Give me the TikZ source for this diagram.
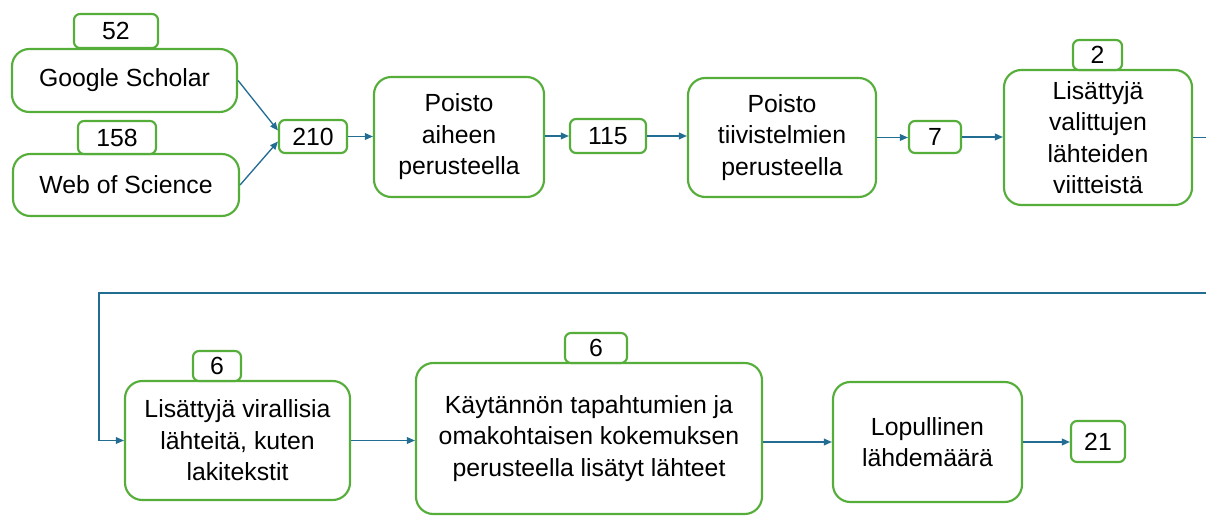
\documentclass[tikz,border=0pt]{standalone}
\usepackage{fontspec}
\setmainfont{Liberation Sans}
\usetikzlibrary{arrows.meta,calc}
\definecolor{boxgreen}{HTML}{55AE3A}
\definecolor{arrblue}{HTML}{236C92}
\begin{document}
\begin{tikzpicture}[x=0.75pt,y=-0.75pt,
  base/.style={draw=boxgreen,line width=1.6pt,fill=white,align=center,inner sep=0pt,
    font=\fontsize{18.6}{23.6}\selectfont},
  bigbox/.style={base,rounded corners=13pt},
  numbox/.style={base,rounded corners=4.5pt},
  arr/.style={draw=arrblue,line width=1pt,-{Triangle[length=6pt,width=5pt]}},
  ln/.style={draw=arrblue,line width=1pt}]
\useasboundingbox (0,0) rectangle (1206,516);
% top row
\node[bigbox,minimum width=168.75pt,minimum height=47.25pt] (gs) at (124.5,80.5) {Google Scholar};
\node[numbox,minimum width=63pt,minimum height=25.5pt] (n52) at (116,31) {52};
\node[bigbox,minimum width=169.5pt,minimum height=46.5pt] (wos) at (126,185) {Web of Science};
\node[numbox,minimum width=58.5pt,minimum height=24.75pt] (n158) at (117,137.5) {158};
\node[numbox,minimum width=51pt,minimum height=24.75pt] (n210) at (313,136.5) {210};
\node[bigbox,minimum width=127.5pt,minimum height=90pt] (p1) at (459,137) {Poisto\\aiheen\\perusteella};
\node[numbox,minimum width=57pt,minimum height=25.5pt] (n115) at (608,136) {115};
\node[bigbox,minimum width=141pt,minimum height=89.25pt] (p2) at (782,137.5) {Poisto\\tiivistelmien\\perusteella};
\node[numbox,minimum width=39pt,minimum height=24pt] (n7) at (935,137) {7};
\node[bigbox,minimum width=141pt,minimum height=101.25pt] (l1) at (1098,137.5) {Lisättyjä\\valittujen\\lähteiden\\viitteistä};
\node[numbox,minimum width=36.75pt,minimum height=22.5pt] (n2) at (1097.5,55) {2};
% bottom row
\node[bigbox,minimum width=168.75pt,minimum height=89.25pt] (l2) at (237.5,440.5) {Lisättyjä virallisia\\lähteitä, kuten\\lakitekstit};
\node[numbox,minimum width=36pt,minimum height=22.5pt] (n6a) at (217,366) {6};
\node[bigbox,minimum width=259.5pt,minimum height=113.25pt] (k) at (589,438.5) {Käytännön tapahtumien ja\\omakohtaisen kokemuksen\\perusteella lisätyt lähteet};
\node[numbox,minimum width=46.5pt,minimum height=22.5pt] (n6b) at (596,348) {6};
\node[bigbox,minimum width=141.75pt,minimum height=90pt] (lop) at (927.5,442) {Lopullinen\\lähdemäärä};
\node[numbox,minimum width=40.5pt,minimum height=30.75pt] (n21) at (1098,441.5) {21};
% connectors
\draw[arr] (gs.east) -- ($(n210.west)+(0,-6)$);
\draw[arr] (wos.east) -- ($(n210.west)+(0,5)$);
\draw[arr] (n210.east) -- (n210.east -| p1.west);
\draw[arr] (n115.east -| p1.east) -- (n115.west);
\draw[arr] (n115.east) -- (n115.east -| p2.west);
\draw[arr] (p2.east) -- (p2.east -| n7.west);
\draw[arr] (n7.east) -- (n7.east -| l1.west);
\coordinate (r1) at (1206,137.5);
\coordinate (r2) at (1206,293);
\coordinate (c1) at (99,293);
\draw[ln] (l1.east) -- (r1);
\draw[arr] (r2) -- (c1) |- (l2.west);
\draw[arr] (l2.east) -- (l2.east -| k.west);
\draw[arr] (lop.west -| k.east) -- (lop.west);
\draw[arr] (lop.east) -- (lop.east -| n21.west);
\end{tikzpicture}
\end{document}
